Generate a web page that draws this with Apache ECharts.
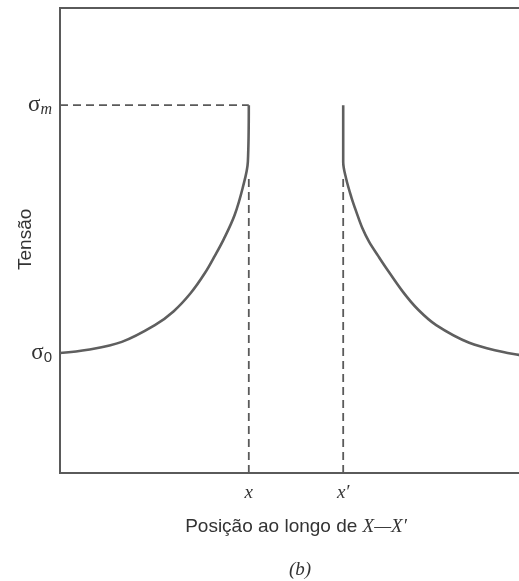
<!DOCTYPE html>
<html>
<head>
<meta charset="utf-8">
<script src="https://cdn.jsdelivr.net/npm/echarts@6/dist/echarts.min.js"></script>
<style>html,body{margin:0;padding:0;background:#fff}#c{width:519px;height:581px}</style>
</head>
<body>
<div id="c"></div>
<script>
// Position along X—X' (arbitrary units: x = 4, x' = 6)
const xPositions = [4, 6];
const xTickLabels = ['x', 'x′'];
// Stress levels
const sigma0 = 2.58;
const sigmaM = 7.91;
// Left curve (stress rising toward crack tip at x)
const leftX = [0, 0.59, 1.31, 2.01, 2.41, 2.77, 3.07, 3.28, 3.47, 3.70, 3.87, 3.98, 4.0];
const leftY = [2.58, 2.65, 2.82, 3.18, 3.48, 3.87, 4.30, 4.67, 5.03, 5.55, 6.13, 6.69, 7.91];
// Right curve (stress falling from crack tip at x')
const rightX = [6.0, 6.0, 6.06, 6.17, 6.28, 6.40, 6.55, 6.74, 6.91, 7.27, 7.59, 7.97, 8.67, 9.39, 9.72, 10.0];
const rightY = [7.91, 6.69, 6.34, 5.94, 5.61, 5.28, 4.97, 4.67, 4.41, 3.89, 3.51, 3.18, 2.80, 2.60, 2.54, 2.49];
const dashTop = 6.4;

const zip = (a, b) => a.map((v, i) => [v, b[i]]);
const lineCol = '#5a5a5a';
const dash = { type: [8, 5], color: lineCol, width: 1.8 };

const chart = echarts.init(document.getElementById('c'));
chart.setOption({
  backgroundColor: '#ffffff',
  animation: false,
  grid: { left: 60, width: 472, top: 8, height: 465, outerBoundsMode: 'none', containLabel: false, show: true, borderColor: lineCol, borderWidth: 2, backgroundColor: 'transparent' },
  xAxis: {
    type: 'value', min: 0, max: 10,
    splitLine: { show: false },
    axisLine: { show: true, lineStyle: { color: lineCol, width: 2 } },
    axisTick: { show: false },
    axisLabel: {
      customValues: xPositions,
      formatter: v => xTickLabels[xPositions.indexOf(v)] || '',
      fontFamily: 'Liberation Serif', fontStyle: 'italic', fontSize: 19, color: '#333', margin: 10
    }
  },
  yAxis: {
    type: 'value', min: 0, max: 10,
    splitLine: { show: false },
    axisLine: { show: true, lineStyle: { color: lineCol, width: 2 } },
    axisTick: { show: false },
    axisLabel: {
      customValues: [sigma0, sigmaM],
      formatter: v => v === sigmaM ? '{s|σ}{sub|m}' : '{s|σ}{sub0|0}',
      margin: 8,
      rich: {
        s: { fontFamily: 'Liberation Serif', fontSize: 23, color: '#333' },
        sub: { fontFamily: 'Liberation Serif', fontStyle: 'italic', fontSize: 16, color: '#333', padding: [10, 0, 0, 0] },
        sub0: { fontFamily: 'Liberation Sans', fontSize: 15, color: '#333', padding: [10, 0, 0, 0] }
      }
    }
  },
  series: [
    { type: 'line', data: [[0, sigmaM], [xPositions[0], sigmaM]], symbol: 'none', lineStyle: dash, z: 1 },
    { type: 'line', data: [[xPositions[0], 0], [xPositions[0], dashTop]], symbol: 'none', lineStyle: dash, z: 1 },
    { type: 'line', data: [[xPositions[1], 0], [xPositions[1], dashTop]], symbol: 'none', lineStyle: dash, z: 1 },
    { type: 'line', data: zip(leftX, leftY), symbol: 'none', smooth: 0.35, lineStyle: { color: '#5f5f5f', width: 2.6 }, z: 3 },
    { type: 'line', data: zip(rightX, rightY), symbol: 'none', smooth: 0.35, lineStyle: { color: '#5f5f5f', width: 2.6 }, z: 3 }
  ],
  graphic: [
    { type: 'text', rotation: Math.PI / 2, x: 16, y: 270, style: { text: 'Tensão', font: '19px "Liberation Sans"', fill: '#333' } },
    { type: 'text', x: 296, y: 527, style: { text: '{n|Posição ao longo de }{i|X—X′}', textAlign: 'center', textVerticalAlign: 'middle', rich: { n: { font: '19px "Liberation Sans"', fill: '#333' }, i: { font: 'italic 19px "Liberation Serif"', fill: '#333' } } } },
    { type: 'text', x: 300, y: 570, style: { text: '(b)', font: 'italic 19px "Liberation Serif"', fill: '#333', textAlign: 'center', textVerticalAlign: 'middle' } }
  ]
});
</script>
</body>
</html>
